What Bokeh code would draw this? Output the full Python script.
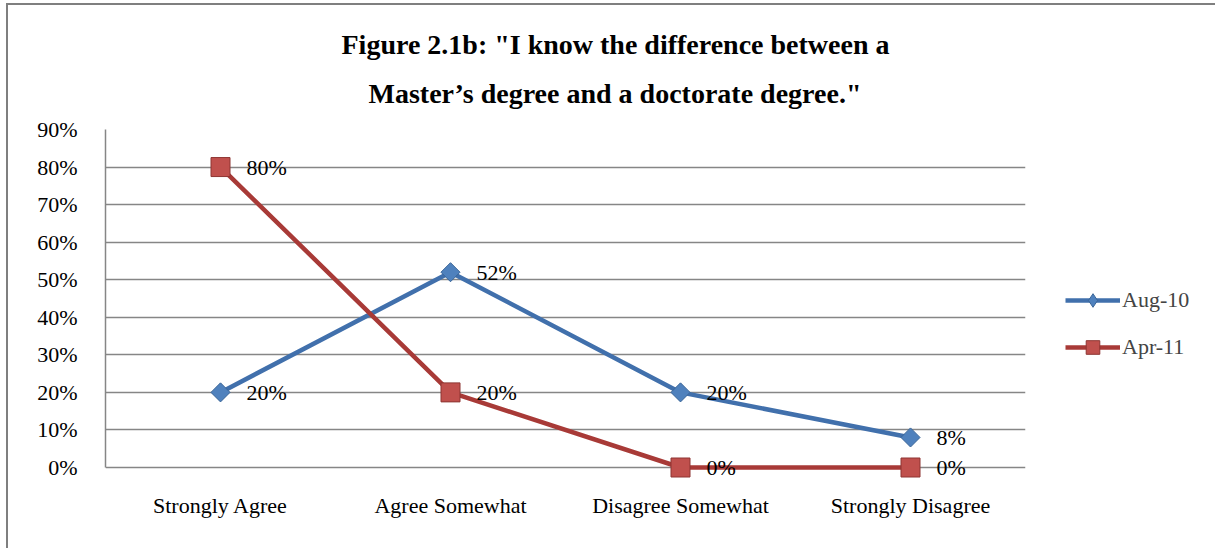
import math
from bokeh.plotting import figure
from bokeh.models import (ColumnDataSource, FactorRange, Range1d, Label, Title,
                          Legend, LegendItem, NumeralTickFormatter, FixedTicker)
from bokeh.embed import file_html
from bokeh.resources import INLINE

categories = ["Strongly Agree", "Agree Somewhat", "Disagree Somewhat", "Strongly Disagree"]
aug10 = [0.20, 0.52, 0.20, 0.08]
apr11 = [0.80, 0.20, 0.00, 0.00]
series_names = ["Aug-10", "Apr-11"]
y_ticks = [0.0, 0.1, 0.2, 0.3, 0.4, 0.5, 0.6, 0.7, 0.8, 0.9]
title_line1 = 'Figure 2.1b: "I know the difference between a'
title_line2 = 'Master\u2019s degree and a doctorate degree."'

FONT = "Liberation Serif"

src_a = ColumnDataSource(dict(x=categories, y=aug10))
src_b = ColumnDataSource(dict(x=categories, y=apr11))

# 15px of room below the 0% line so data labels at 0% are not clipped
pad_px = 15
y_top = y_ticks[-1]
y_bottom = -y_top * pad_px / 338

p = figure(frame_width=920, frame_height=338 + pad_px, output_backend="svg", toolbar_location=None,
           x_range=FactorRange(*categories, range_padding=0),
           y_range=Range1d(y_bottom, y_top),
           min_border_left=97, min_border_top=124, min_border_bottom=81 - pad_px, min_border_right=190)
p.margin = (3, 0, 0, 6)
p.outline_line_color = None
p.styles = {"border-left": "2px solid #7f7f7f", "border-top": "2px solid #7f7f7f"}

title_style = dict(text_font=FONT, text_font_style="bold", text_font_size="28px", text_color="#000000")
p.title.text = title_line1
p.title.align = "left"
p.title.offset = 236
p.title.standoff = 0
p.title.vertical_align = "bottom"
for k, v in title_style.items():
    setattr(p.title, k, v)
p.add_layout(Title(text=title_line2, align="left", offset=263, standoff=37,
                   vertical_align="top", **title_style), "above")

p.xgrid.grid_line_color = None
p.ygrid.grid_line_color = "#868686"
p.ygrid.grid_line_width = 1.5
p.ygrid.ticker = FixedTicker(ticks=y_ticks)

p.yaxis.ticker = FixedTicker(ticks=y_ticks)
p.yaxis.formatter = NumeralTickFormatter(format="0%")
p.yaxis.bounds = (0, y_top)
for ax in (p.xaxis[0], p.yaxis[0]):
    ax.axis_line_color = "#868686"
    ax.axis_line_width = 1.5
    ax.major_tick_line_color = None
    ax.minor_tick_line_color = None
    ax.major_label_text_font = FONT
    ax.major_label_text_font_size = "22px"
    ax.major_label_text_color = "#000000"
p.xaxis.axis_line_color = None
p.yaxis.major_label_standoff = 22
p.xaxis.major_label_standoff = 4

blue_line, blue_fill, blue_edge = "#4170AC", "#4F81BD", "#3B6698"
red_line, red_fill, red_edge = "#A83A37", "#C0504D", "#8E3532"

la = p.line("x", "y", source=src_a, line_color=blue_line, line_width=4.5)
ma = p.scatter("x", "y", source=src_a, marker="square", size=13.5, angle=math.pi / 4,
               fill_color=blue_fill, line_color=blue_edge, line_width=1)
# diamond swatch for the legend (zero size in the plot itself)
ma_leg = p.scatter("x", "y", source=src_a, marker="diamond", size=0,
                   fill_color=blue_fill, line_color=blue_edge, line_width=1)
lb = p.line("x", "y", source=src_b, line_color=red_line, line_width=4.5)
mb = p.scatter("x", "y", source=src_b, marker="square", size=19, fill_color=red_fill,
               line_color=red_edge, line_width=1)

# data labels (per point, placed via data coordinates of the category axis)
for vals in (aug10, apr11):
    for i, v in enumerate(vals):
        p.add_layout(Label(x=i + 0.5, y=v, x_offset=26, text=f"{round(v * 100)}%",
                           text_baseline="middle", text_font=FONT,
                           text_font_size="22px", text_color="#000000"))

legend = Legend(items=[LegendItem(label=series_names[0], renderers=[la, ma_leg]),
                       LegendItem(label=series_names[1], renderers=[lb, mb])],
                location=(40, 118), padding=0, margin=0, spacing=13,
                glyph_width=55, glyph_height=34, label_standoff=2,
                label_text_font=FONT, label_text_font_size="22px",
                background_fill_alpha=0, border_line_color=None)
p.add_layout(legend, "right")

open("out.html", "w").write(file_html(p, INLINE))
